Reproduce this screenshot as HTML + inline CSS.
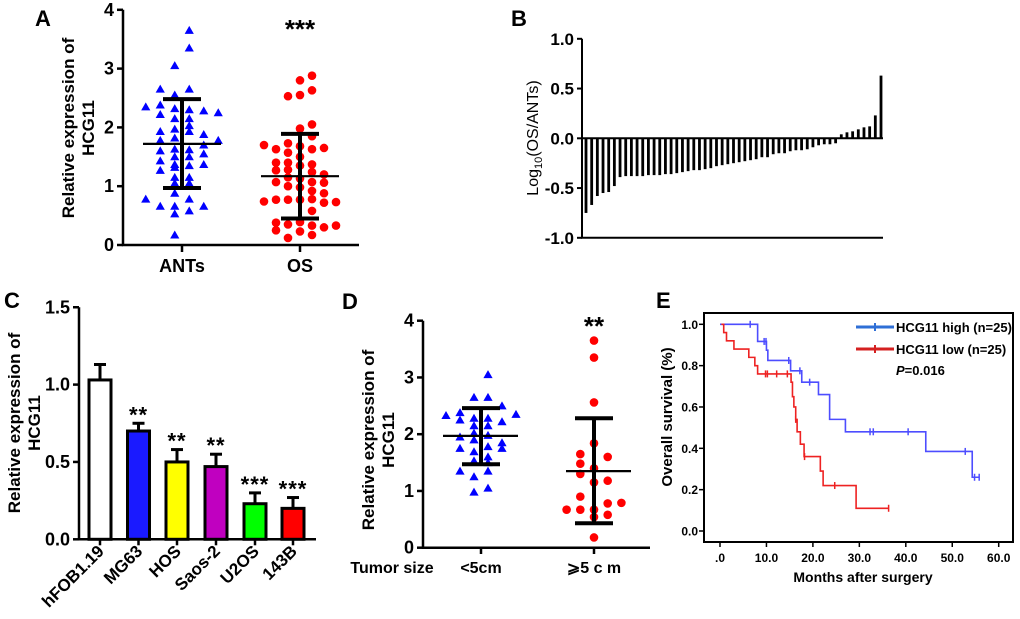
<!DOCTYPE html>
<html><head><meta charset="utf-8"><style>
html,body{margin:0;padding:0;background:#fff;}
svg{display:block;font-family:"Liberation Sans",Arial,sans-serif;}
</style></head><body>
<svg id="fig" width="1020" height="619" viewBox="0 0 1020 619" xmlns="http://www.w3.org/2000/svg">
<text x="35" y="26" font-size="22" font-weight="bold">A</text>
<text x="511" y="26" font-size="22" font-weight="bold">B</text>
<text x="4" y="308" font-size="22" font-weight="bold">C</text>
<text x="342" y="309" font-size="22" font-weight="bold">D</text>
<text x="656" y="308" font-size="22" font-weight="bold">E</text>
<text transform="translate(74,128) rotate(-90)" text-anchor="middle" font-size="17" font-weight="bold">Relative expression of</text>
<text transform="translate(94,128) rotate(-90)" text-anchor="middle" font-size="17" font-weight="bold">HCG11</text>
<text transform="translate(538,138) rotate(-90)" text-anchor="middle" font-size="16">Log<tspan font-size="11" dy="4">10</tspan><tspan dy="-4">(OS/ANTs)</tspan></text>
<text transform="translate(20,423) rotate(-90)" text-anchor="middle" font-size="17" font-weight="bold">Relative expression of</text>
<text transform="translate(40,423) rotate(-90)" text-anchor="middle" font-size="17" font-weight="bold">HCG11</text>
<text transform="translate(374,440) rotate(-90)" text-anchor="middle" font-size="17" font-weight="bold">Relative expression of</text>
<text transform="translate(394,440) rotate(-90)" text-anchor="middle" font-size="17" font-weight="bold">HCG11</text>
<text x="392" y="573" text-anchor="middle" font-size="16" font-weight="bold">Tumor size</text>
<text transform="translate(672,417) rotate(-90)" text-anchor="middle" font-size="15" font-weight="bold">Overall survival (%)</text>
<text x="863" y="582" text-anchor="middle" font-size="14" font-weight="bold">Months after surgery</text>
<g id="root"></g>
</svg>
<script>
// ---- Panel A data ----
const aAntsVals=[3.65,3.35,3.05,2.65,2.65,2.55,2.35,2.38,2.32,2.3,2.28,2.25,2.22,2.15,2.15,2.03,1.93,1.97,1.93,1.88,1.78,1.82,1.78,1.7,1.6,1.63,1.62,1.55,1.43,1.5,1.5,1.37,1.37,1.35,1.27,1.32,1.15,1.15,1.05,1.05,0.88,0.78,0.78,0.66,0.66,0.66,0.58,0.53,0.17];
const aAntsSlot=[0.5,0.5,-0.5,-1.5,0.5,-0.5,-2.5,-1.5,-0.5,0.5,1.5,2.5,-1.5,-0.5,0.5,0.5,-1.5,-0.5,0.5,1.5,-1.5,-0.5,2.5,1.5,-1.5,-0.5,0.5,1.5,-1.5,-0.5,0.5,1.5,-0.5,0.5,-1.5,-0.5,-0.5,0.5,-0.5,0.5,-0.5,-2.5,0.5,-1.5,-0.5,1.5,0.5,-0.5,-0.5];
const aOsVals=[2.88,2.8,2.63,2.53,2.55,2.05,1.98,1.85,1.7,1.63,1.73,1.68,1.63,1.65,1.57,1.5,1.4,1.4,1.35,1.37,1.27,1.28,1.24,1.2,1.15,1.13,1.07,1.07,1.06,1.0,0.98,0.92,0.88,0.74,0.77,0.77,0.77,0.78,0.72,0.73,0.58,0.38,0.35,0.39,0.33,0.3,0.33,0.25,0.23,0.17,0.12];
const aOsSlot=[1,0,1,-1,0,1,0,1,-3,-2,-1,0,1,2,-1,0,-2,-1,0,1,-2,-1,1,2,-1,0,-2,1,2,-1,0,1,2,-3,-2,-1,0,1,2,3,1,-2,-1,0,1,2,3,-2,0,1,-1];
const aStats={antsMean:1.72,antsSdHi:2.48,antsSdLo:0.97,osMean:1.17,osSdHi:1.89,osSdLo:0.45};
const aTicks=[0,1,2,3,4];
// ---- Panel B data ----
const bVals=[-0.75,-0.67,-0.58,-0.55,-0.54,-0.48,-0.39,-0.38,-0.38,-0.38,-0.38,-0.37,-0.37,-0.37,-0.36,-0.36,-0.35,-0.34,-0.33,-0.32,-0.32,-0.31,-0.30,-0.28,-0.27,-0.26,-0.25,-0.24,-0.23,-0.22,-0.21,-0.19,-0.19,-0.16,-0.15,-0.15,-0.13,-0.12,-0.12,-0.11,-0.09,-0.07,-0.06,-0.06,-0.05,0.04,0.06,0.07,0.09,0.11,0.12,0.23,0.63];
const bTicks=[1.0,0.5,0.0,-0.5,-1.0];
// ---- Panel C data ----
const cCats=["hFOB1.19","MG63","HOS","Saos-2","U2OS","143B"];
const cVals=[1.03,0.70,0.50,0.47,0.23,0.20];
const cErr=[0.10,0.05,0.08,0.08,0.07,0.07];
const cSig=["","**","**","**","***","***"];
const cColors=["#ffffff","#1a1aff","#ffff00","#c000c0","#00ff00","#ff0000"];
const cTicks=[0,0.5,1.0,1.5];
// ---- Panel D data ----
const dSmallVals=[3.05,2.65,2.65,2.33,2.38,2.5,2.35,2.25,2.28,2.28,2.22,2.15,2.15,2.02,1.95,1.98,1.9,1.85,1.75,1.78,1.75,1.69,1.6,1.53,1.5,1.35,1.35,1.25,0.98,1.05];
const dSmallSlot=[0.5,-0.5,0.5,-2.5,-1.5,1.5,2.5,-1.5,-0.5,0.5,1.5,-0.5,0.5,-0.5,-1.5,0.5,-0.5,1.5,-1.5,0.5,1.5,-0.5,0.5,-0.5,0.5,-1.5,0.5,-0.5,-0.5,0.5];
const dLargeVals=[3.65,3.35,2.56,1.84,1.65,1.6,1.48,1.4,1.3,1.15,1.18,0.9,0.79,0.78,0.67,0.67,0.67,0.58,0.54,0.18];
const dLargeSlot=[0,0,0,0,-1,1,-1,0,-1,0,1,-1,2,1,-2,-1,0,1,0,0];
const dStats={sMean:1.97,sHi:2.46,sLo:1.47,lMean:1.35,lHi:2.28,lLo:0.43};
const dTicks=[0,1,2,3,4];
// ---- Panel E data ----
const eHighT=[0,8.1,10.0,10.3,15.2,17.6,21.2,23.6,27.0,44.3,54.3,55.8];
const eHighS=[1.0,0.917,0.875,0.825,0.775,0.72,0.66,0.54,0.48,0.385,0.26,0.26];
const eHighCensT=[6.5,9.5,9.9,14.8,17.2,19.3,32.3,33.0,40.5,52.8,54.8,55.8];
const eHighCensS=[1.0,0.917,0.917,0.825,0.775,0.72,0.48,0.48,0.48,0.385,0.26,0.26];
const eLowT=[0.3,0.8,1.4,3.0,6.2,7.5,8.1,15.3,15.6,15.9,16.3,16.6,17.3,18.1,21.6,22.2,29.3,36.3];
const eLowS=[1.0,0.96,0.92,0.88,0.84,0.80,0.76,0.72,0.65,0.60,0.54,0.48,0.42,0.36,0.29,0.22,0.11,0.11];
const eLowCensT=[9.8,10.2,12.2,14.5,16.3,18.2,24.7,36.3];
const eLowCensS=[0.76,0.76,0.76,0.76,0.54,0.36,0.22,0.11];
const eYTicks=[0,0.2,0.4,0.6,0.8,1.0];
const eXTicks=[0,10,20,30,40,50,60];
const eXLabels=[".0","10.0","20.0","30.0","40.0","50.0","60.0"];

const NS="http://www.w3.org/2000/svg";
const root=document.getElementById('root');
function mk(tag,attrs,parent){const e=document.createElementNS(NS,tag);for(const k in attrs)e.setAttribute(k,attrs[k]);(parent||root).appendChild(e);return e;}
function txt(s,attrs,parent){const e=mk('text',attrs,parent);e.textContent=s;return e;}

// ===== Panel A =====
const yA=v=>245-v*58.8; const axA=123, cA1=182, cA2=300;
let e;
e=mk('path',{d:`M${axA} ${yA(4)}V${yA(0)}H359`,stroke:'#000','stroke-width':2.5,fill:'none'});


aTicks.forEach(t=>{
  e=mk('line',{x1:axA-6,x2:axA,y1:yA(t),y2:yA(t),stroke:'#000','stroke-width':2.5});
  
  
  e=txt(String(t),{x:axA-9,y:yA(t)+6,'text-anchor':'end','font-size':18,'font-weight':'bold'});
  
  
});
[[cA1,'ANTs'],[cA2,'OS']].forEach(([cx,l])=>{
  e=mk('line',{x1:cx,x2:cx,y1:245,y2:252,stroke:'#000','stroke-width':2.5});
  
  
  e=txt(l,{x:cx,y:272,'text-anchor':'middle','font-size':18,'font-weight':'bold'});
  
  
});
function tri(cx,cy,fill,name){const p=mk('path',{d:`M${cx} ${cy-4.5}L${cx+4.6} ${cy+3.5}L${cx-4.6} ${cy+3.5}Z`,fill:fill});}
function dot(cx,cy,fill,name){const p=mk('circle',{cx:cx,cy:cy,r:4.3,fill:fill});}
aAntsVals.forEach((v,i)=>tri(cA1+aAntsSlot[i]*14.5,yA(v),'#0000ff','a-ants-point'));
aOsVals.forEach((v,i)=>dot(cA2+aOsSlot[i]*12,yA(v),'#ff0000','a-os-point'));
function errbar(cx,mean,hi,lo,ys,half,mhalfL,mhalfR,name){
  const g=mk('g',{});
  mk('line',{x1:cx,x2:cx,y1:ys(hi),y2:ys(lo),stroke:'#000','stroke-width':4},g);
  mk('line',{x1:cx-half,x2:cx+half,y1:ys(hi),y2:ys(hi),stroke:'#000','stroke-width':4},g);
  mk('line',{x1:cx-half,x2:cx+half,y1:ys(lo),y2:ys(lo),stroke:'#000','stroke-width':4},g);
  mk('line',{x1:cx-mhalfL,x2:cx+mhalfR,y1:ys(mean),y2:ys(mean),stroke:'#000','stroke-width':2.2},g);
}
errbar(cA1,aStats.antsMean,aStats.antsSdHi,aStats.antsSdLo,yA,19,39,39,'a-ants-mean-sd');
errbar(cA2,aStats.osMean,aStats.osSdHi,aStats.osSdLo,yA,19,39,39,'a-os-mean-sd');
e=txt('***',{x:cA2,y:38,'text-anchor':'middle','font-size':26,'font-weight':'bold'});



// ===== Panel B =====
const yB=v=>138.3-v*99.5; const axB=582;
e=mk('path',{d:`M${axB} ${yB(1)}V${yB(-1)}H883`,stroke:'#000','stroke-width':2,fill:'none'});


e=mk('line',{x1:axB,x2:883,y1:yB(0),y2:yB(0),stroke:'#000','stroke-width':2});


bTicks.forEach(t=>{
  e=mk('line',{x1:axB-5,x2:axB,y1:yB(t),y2:yB(t),stroke:'#000','stroke-width':2});
  
  
  e=txt(t.toFixed(1),{x:axB-8,y:yB(t)+6,'text-anchor':'end','font-size':17,'font-weight':'bold'});
  
  
});
const bPitch=(881-586)/(bVals.length-1);
bVals.forEach((v,i)=>{
  const x=586+i*bPitch;
  e=mk('rect',{x:x-1.4,y:Math.min(yB(v),yB(0)),width:2.8,height:Math.abs(yB(v)-yB(0)),fill:'#000'});
  
  
});

// ===== Panel C =====
const yC=v=>539.3-v*154.7; const axC=79; const cCx=[100,138.5,177,216,255,293];
cVals.forEach((v,i)=>{
  const cx=cCx[i];
  e=mk('line',{x1:cx,x2:cx,y1:yC(v),y2:yC(v+cErr[i]),stroke:'#000','stroke-width':3});
  
  
  e=mk('line',{x1:cx-6,x2:cx+6,y1:yC(v+cErr[i]),y2:yC(v+cErr[i]),stroke:'#000','stroke-width':3});
  
  
  e=mk('rect',{x:cx-11,y:yC(v),width:22,height:yC(0)-yC(v),fill:cColors[i],stroke:'#000','stroke-width':3});
  
  
  if(cSig[i]){
    e=txt(cSig[i],{x:cx,y:yC(v+cErr[i])-1,'text-anchor':'middle','font-size':22,'font-weight':'bold','letter-spacing':'1'});
    
    
  }
  e=mk('line',{x1:cx,x2:cx,y1:yC(0),y2:yC(0)+6,stroke:'#000','stroke-width':2.5});
  
  
  e=txt(cCats[i],{transform:`translate(${cx+5},${yC(0)+13}) rotate(-45)`,'text-anchor':'end','font-size':17,'font-weight':'bold'});
  
  
});
e=mk('path',{d:`M${axC} ${yC(1.5)}V${yC(0)}H316`,stroke:'#000','stroke-width':2.5,fill:'none'});


cTicks.forEach(t=>{
  e=mk('line',{x1:axC-6,x2:axC,y1:yC(t),y2:yC(t),stroke:'#000','stroke-width':2.5});
  
  
  e=txt(t.toFixed(1),{x:axC-9,y:yC(t)+6,'text-anchor':'end','font-size':18,'font-weight':'bold'});
  
  
});

// ===== Panel D =====
const yD=v=>547.7-v*56.75; const axD=423, cD1=481, cD2=594;
e=mk('path',{d:`M${axD} ${yD(4)}V${yD(0)}H650`,stroke:'#000','stroke-width':2.5,fill:'none'});


dTicks.forEach(t=>{
  e=mk('line',{x1:axD-6,x2:axD,y1:yD(t),y2:yD(t),stroke:'#000','stroke-width':2.5});
  
  
  e=txt(String(t),{x:axD-9,y:yD(t)+6,'text-anchor':'end','font-size':18,'font-weight':'bold'});
  
  
});
[[cD1,'<5cm'],[cD2,'⩾5 c m']].forEach(([cx,l])=>{
  e=mk('line',{x1:cx,x2:cx,y1:547.7,y2:554,stroke:'#000','stroke-width':2.5});
  
  
  e=txt(l,{x:cx,y:573,'text-anchor':'middle','font-size':16,'font-weight':'bold'});
  
  
});
dSmallVals.forEach((v,i)=>tri(cD1+dSmallSlot[i]*14,yD(v),'#0000ff','d-small-tumor-point'));
dLargeVals.forEach((v,i)=>dot(cD2+dLargeSlot[i]*13.7,yD(v),'#ff0000','d-large-tumor-point'));
errbar(cD1,dStats.sMean,dStats.sHi,dStats.sLo,yD,19,38,37,'d-small-mean-sd');
errbar(cD2,dStats.lMean,dStats.lHi,dStats.lLo,yD,19,28,37,'d-large-mean-sd');
e=txt('**',{x:cD2,y:335,'text-anchor':'middle','font-size':26,'font-weight':'bold'});



// ===== Panel E =====
const xE=t=>720+t*4.645, yE=s=>531-s*206.7;
e=mk('rect',{x:704,y:313,width:309,height:229,fill:'none',stroke:'#000','stroke-width':2});


eYTicks.forEach(t=>{
  e=mk('line',{x1:699,x2:704,y1:yE(t),y2:yE(t),stroke:'#000','stroke-width':1.5});
  
  
  e=txt(t.toFixed(1),{x:698,y:yE(t)+4.5,'text-anchor':'end','font-size':12,'font-weight':'bold'});
  
  
});
eXTicks.forEach((t,i)=>{
  e=mk('line',{x1:xE(t),x2:xE(t),y1:542,y2:547,stroke:'#000','stroke-width':1.5});
  
  
  e=txt(eXLabels[i],{x:xE(t),y:562,'text-anchor':'middle','font-size':12,'font-weight':'bold'});
  
  
});
function stepPath(T,S){let d=`M${xE(T[0])} ${yE(S[0])}`;for(let i=1;i<T.length;i++){d+=`H${xE(T[i])}V${yE(S[i])}`;}return d;}
function cens(T,S,col,name){T.forEach((t,i)=>{const c=mk('line',{x1:xE(t),x2:xE(t),y1:yE(S[i])-3.5,y2:yE(S[i])+3.5,stroke:col,'stroke-width':1.5});});}
e=mk('path',{d:stepPath(eHighT,eHighS),fill:'none',stroke:'#4d4dff','stroke-width':1.6});


cens(eHighCensT,eHighCensS,'#4d4dff','e-censor-high');
e=mk('path',{d:stepPath(eLowT,eLowS),fill:'none',stroke:'#ee2222','stroke-width':1.6});


cens(eLowCensT,eLowCensS,'#ee2222','e-censor-low');
[[327,'#2f6fd6','HCG11 high (n=25)','e-legend-high'],[349,'#d42020','HCG11 low (n=25)','e-legend-low']].forEach(([y,c,l,n])=>{
  const g=mk('g',{});
  
  
  mk('line',{x1:856,x2:894,y1:y,y2:y,stroke:c,'stroke-width':3},g);
  mk('line',{x1:875,x2:875,y1:y-4,y2:y+4,stroke:c,'stroke-width':2},g);
  txt(l,{x:896,y:y+5,'font-size':13,'font-weight':'bold'},g);
});
e=txt('',{x:896,y:375,'font-size':13,'font-weight':'bold'});
e.innerHTML='<tspan font-style="italic">P</tspan>=0.016';


</script>
</body></html>
